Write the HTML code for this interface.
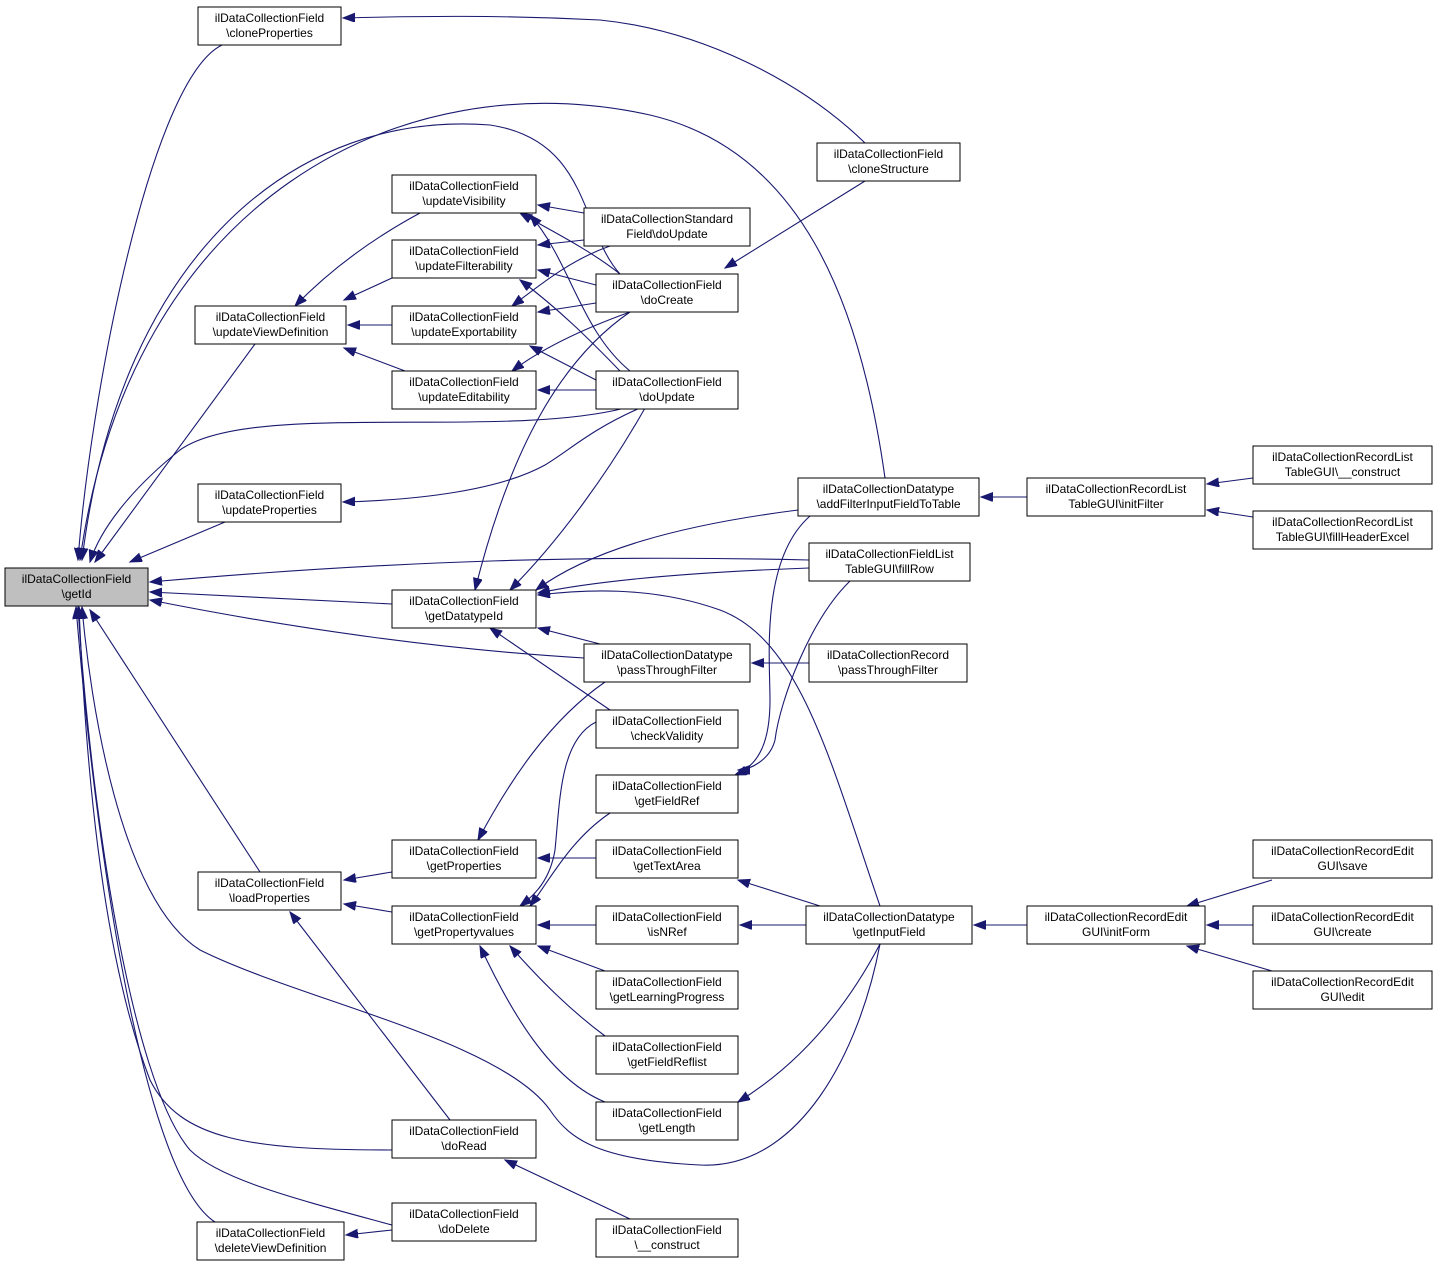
<!DOCTYPE html>
<html><head><meta charset="utf-8"><style>
html,body{margin:0;padding:0;background:#fff;}
svg{display:block;}
text{font-family:"Liberation Sans",sans-serif;font-size:12px;fill:#000;}
.n{fill:#fff;stroke:#000;stroke-width:1;}
.e{fill:none;stroke:#191970;stroke-width:1.1;}
</style></head><body>
<svg width="1437" height="1267" viewBox="0 0 1437 1267" xmlns="http://www.w3.org/2000/svg">
<defs><marker id="a" markerUnits="userSpaceOnUse" markerWidth="14" markerHeight="10" refX="12" refY="4.5" orient="auto"><path d="M0,0 L12,4.5 L0,9 z" fill="#191970" stroke="#191970"/></marker></defs>
<g class="edges">
<path class="e" marker-end="url(#a)" d="M222,45 C150,80 90,400 78,560"/>
<path class="e" marker-end="url(#a)" d="M885,478 C860,300 800,150 650,115 C400,60 130,200 80,560"/>
<path class="e" marker-end="url(#a)" d="M620,274 C580,230 590,140 490,125 C300,110 120,250 82,560"/>
<path class="e" marker-end="url(#a)" d="M255,344 L95,562"/>
<path class="e" marker-end="url(#a)" d="M225,522 L130,562"/>
<path class="e" marker-end="url(#a)" d="M625,408 C500,440 250,400 180,450 C130,490 100,530 90,562"/>
<path class="e" marker-end="url(#a)" d="M809,560 C600,555 400,560 150,582"/>
<path class="e" marker-end="url(#a)" d="M392,604 L150,592"/>
<path class="e" marker-end="url(#a)" d="M584,658 C450,650 300,630 150,600"/>
<path class="e" marker-end="url(#a)" d="M260,872 L90,610"/>
<path class="e" marker-end="url(#a)" d="M880,944 C860,1050 800,1170 700,1165 C600,1160 570,1140 550,1110 C500,1040 300,1000 200,950 C120,900 90,700 82,607"/>
<path class="e" marker-end="url(#a)" d="M392,1150 C250,1150 180,1140 150,1080 C100,950 85,750 79,607"/>
<path class="e" marker-end="url(#a)" d="M392,1225 C300,1200 220,1180 190,1150 C130,1080 90,800 78,607"/>
<path class="e" marker-end="url(#a)" d="M215,1222 C150,1180 100,900 76,607"/>
<path class="e" marker-end="url(#a)" d="M420,213 C370,240 330,270 295,306"/>
<path class="e" marker-end="url(#a)" d="M392,278 L344,300"/>
<path class="e" marker-end="url(#a)" d="M392,325 L348,325"/>
<path class="e" marker-end="url(#a)" d="M405,371 L344,348"/>
<path class="e" marker-end="url(#a)" d="M584,213 L538,205"/>
<path class="e" marker-end="url(#a)" d="M620,274 C590,250 550,230 520,213"/>
<path class="e" marker-end="url(#a)" d="M630,371 C580,330 570,260 530,215"/>
<path class="e" marker-end="url(#a)" d="M584,240 L538,245"/>
<path class="e" marker-end="url(#a)" d="M596,285 L538,270"/>
<path class="e" marker-end="url(#a)" d="M620,371 C590,340 560,310 520,280"/>
<path class="e" marker-end="url(#a)" d="M610,246 C570,260 540,285 512,306"/>
<path class="e" marker-end="url(#a)" d="M596,303 L538,312"/>
<path class="e" marker-end="url(#a)" d="M596,380 L530,346"/>
<path class="e" marker-end="url(#a)" d="M630,312 C580,330 540,350 512,371"/>
<path class="e" marker-end="url(#a)" d="M596,390 L538,390"/>
<path class="e" marker-end="url(#a)" d="M865,143 C800,80 700,30 600,20 C500,15 420,16 343,18"/>
<path class="e" marker-end="url(#a)" d="M865,181 L725,268"/>
<path class="e" marker-end="url(#a)" d="M640,408 C590,430 570,450 545,465 C500,490 420,500 343,502"/>
<path class="e" marker-end="url(#a)" d="M392,872 L344,880"/>
<path class="e" marker-end="url(#a)" d="M392,912 L344,904"/>
<path class="e" marker-end="url(#a)" d="M450,1120 L290,912"/>
<path class="e" marker-end="url(#a)" d="M630,312 C560,360 510,450 475,590"/>
<path class="e" marker-end="url(#a)" d="M645,408 C610,470 560,540 510,590"/>
<path class="e" marker-end="url(#a)" d="M798,510 C680,525 590,550 536,590"/>
<path class="e" marker-end="url(#a)" d="M809,568 C700,572 600,580 538,593"/>
<path class="e" marker-end="url(#a)" d="M600,644 L538,628"/>
<path class="e" marker-end="url(#a)" d="M610,710 L490,628"/>
<path class="e" marker-end="url(#a)" d="M880,906 C830,760 800,640 720,610 C650,585 580,590 538,595"/>
<path class="e" marker-end="url(#a)" d="M605,682 C550,720 510,780 478,840"/>
<path class="e" marker-end="url(#a)" d="M596,858 L538,858"/>
<path class="e" marker-end="url(#a)" d="M596,722 C560,740 560,800 555,850 C550,880 535,895 520,906"/>
<path class="e" marker-end="url(#a)" d="M610,813 C570,840 550,880 530,906"/>
<path class="e" marker-end="url(#a)" d="M596,925 L538,925"/>
<path class="e" marker-end="url(#a)" d="M605,971 L538,946"/>
<path class="e" marker-end="url(#a)" d="M605,1036 C570,1010 540,980 510,946"/>
<path class="e" marker-end="url(#a)" d="M605,1102 C550,1080 510,1010 480,946"/>
<path class="e" marker-end="url(#a)" d="M810,516 C760,560 770,660 770,700 C770,740 760,765 735,775"/>
<path class="e" marker-end="url(#a)" d="M850,581 C810,620 780,700 775,740 C770,760 750,770 738,770"/>
<path class="e" marker-end="url(#a)" d="M820,906 L738,880"/>
<path class="e" marker-end="url(#a)" d="M806,925 L740,925"/>
<path class="e" marker-end="url(#a)" d="M880,944 C840,1020 790,1070 738,1102"/>
<path class="e" marker-end="url(#a)" d="M809,663 L752,663"/>
<path class="e" marker-end="url(#a)" d="M630,1219 L505,1160"/>
<path class="e" marker-end="url(#a)" d="M392,1230 L346,1235"/>
<path class="e" marker-end="url(#a)" d="M1027,497 L981,497"/>
<path class="e" marker-end="url(#a)" d="M1253,478 L1207,484"/>
<path class="e" marker-end="url(#a)" d="M1253,517 L1207,510"/>
<path class="e" marker-end="url(#a)" d="M1027,925 L974,925"/>
<path class="e" marker-end="url(#a)" d="M1272,880 L1187,906"/>
<path class="e" marker-end="url(#a)" d="M1253,925 L1207,925"/>
<path class="e" marker-end="url(#a)" d="M1272,971 L1187,946"/>
</g>
<g text-anchor="middle">
<rect x="5" y="568" width="143" height="38" fill="#bfbfbf" stroke="#000"/><text x="76.5" y="583">ilDataCollectionField</text><text x="76.5" y="598">\getId</text>
<rect class="n" x="198" y="7" width="143" height="38"/><text x="269.5" y="22">ilDataCollectionField</text><text x="269.5" y="37">\cloneProperties</text>
<rect class="n" x="195" y="306" width="151" height="38"/><text x="270.5" y="321">ilDataCollectionField</text><text x="270.5" y="336">\updateViewDefinition</text>
<rect class="n" x="198" y="484" width="143" height="38"/><text x="269.5" y="499">ilDataCollectionField</text><text x="269.5" y="514">\updateProperties</text>
<rect class="n" x="198" y="872" width="143" height="38"/><text x="269.5" y="887">ilDataCollectionField</text><text x="269.5" y="902">\loadProperties</text>
<rect class="n" x="197" y="1222" width="147" height="38"/><text x="270.5" y="1237">ilDataCollectionField</text><text x="270.5" y="1252">\deleteViewDefinition</text>
<rect class="n" x="392" y="175" width="144" height="38"/><text x="464" y="190">ilDataCollectionField</text><text x="464" y="205">\updateVisibility</text>
<rect class="n" x="392" y="240" width="144" height="38"/><text x="464" y="255">ilDataCollectionField</text><text x="464" y="270">\updateFilterability</text>
<rect class="n" x="392" y="306" width="144" height="38"/><text x="464" y="321">ilDataCollectionField</text><text x="464" y="336">\updateExportability</text>
<rect class="n" x="392" y="371" width="144" height="38"/><text x="464" y="386">ilDataCollectionField</text><text x="464" y="401">\updateEditability</text>
<rect class="n" x="392" y="590" width="144" height="38"/><text x="464" y="605">ilDataCollectionField</text><text x="464" y="620">\getDatatypeId</text>
<rect class="n" x="392" y="840" width="144" height="38"/><text x="464" y="855">ilDataCollectionField</text><text x="464" y="870">\getProperties</text>
<rect class="n" x="392" y="906" width="144" height="38"/><text x="464" y="921">ilDataCollectionField</text><text x="464" y="936">\getPropertyvalues</text>
<rect class="n" x="392" y="1120" width="144" height="38"/><text x="464" y="1135">ilDataCollectionField</text><text x="464" y="1150">\doRead</text>
<rect class="n" x="392" y="1203" width="144" height="38"/><text x="464" y="1218">ilDataCollectionField</text><text x="464" y="1233">\doDelete</text>
<rect class="n" x="584" y="208" width="166" height="38"/><text x="667" y="223">ilDataCollectionStandard</text><text x="667" y="238">Field\doUpdate</text>
<rect class="n" x="596" y="274" width="142" height="38"/><text x="667" y="289">ilDataCollectionField</text><text x="667" y="304">\doCreate</text>
<rect class="n" x="596" y="371" width="142" height="38"/><text x="667" y="386">ilDataCollectionField</text><text x="667" y="401">\doUpdate</text>
<rect class="n" x="584" y="644" width="166" height="38"/><text x="667" y="659">ilDataCollectionDatatype</text><text x="667" y="674">\passThroughFilter</text>
<rect class="n" x="596" y="710" width="142" height="38"/><text x="667" y="725">ilDataCollectionField</text><text x="667" y="740">\checkValidity</text>
<rect class="n" x="596" y="775" width="142" height="38"/><text x="667" y="790">ilDataCollectionField</text><text x="667" y="805">\getFieldRef</text>
<rect class="n" x="596" y="840" width="142" height="38"/><text x="667" y="855">ilDataCollectionField</text><text x="667" y="870">\getTextArea</text>
<rect class="n" x="596" y="906" width="142" height="38"/><text x="667" y="921">ilDataCollectionField</text><text x="667" y="936">\isNRef</text>
<rect class="n" x="596" y="971" width="142" height="38"/><text x="667" y="986">ilDataCollectionField</text><text x="667" y="1001">\getLearningProgress</text>
<rect class="n" x="596" y="1036" width="142" height="38"/><text x="667" y="1051">ilDataCollectionField</text><text x="667" y="1066">\getFieldReflist</text>
<rect class="n" x="596" y="1102" width="142" height="38"/><text x="667" y="1117">ilDataCollectionField</text><text x="667" y="1132">\getLength</text>
<rect class="n" x="596" y="1219" width="142" height="38"/><text x="667" y="1234">ilDataCollectionField</text><text x="667" y="1249">\__construct</text>
<rect class="n" x="817" y="143" width="143" height="38"/><text x="888.5" y="158">ilDataCollectionField</text><text x="888.5" y="173">\cloneStructure</text>
<rect class="n" x="798" y="478" width="181" height="38"/><text x="888.5" y="493">ilDataCollectionDatatype</text><text x="888.5" y="508">\addFilterInputFieldToTable</text>
<rect class="n" x="809" y="543" width="161" height="38"/><text x="889.5" y="558">ilDataCollectionFieldList</text><text x="889.5" y="573">TableGUI\fillRow</text>
<rect class="n" x="809" y="644" width="158" height="38"/><text x="888" y="659">ilDataCollectionRecord</text><text x="888" y="674">\passThroughFilter</text>
<rect class="n" x="806" y="906" width="166" height="38"/><text x="889" y="921">ilDataCollectionDatatype</text><text x="889" y="936">\getInputField</text>
<rect class="n" x="1027" y="478" width="178" height="38"/><text x="1116" y="493">ilDataCollectionRecordList</text><text x="1116" y="508">TableGUI\initFilter</text>
<rect class="n" x="1027" y="906" width="178" height="38"/><text x="1116" y="921">ilDataCollectionRecordEdit</text><text x="1116" y="936">GUI\initForm</text>
<rect class="n" x="1253" y="446" width="179" height="38"/><text x="1342.5" y="461">ilDataCollectionRecordList</text><text x="1342.5" y="476">TableGUI\__construct</text>
<rect class="n" x="1253" y="511" width="179" height="38"/><text x="1342.5" y="526">ilDataCollectionRecordList</text><text x="1342.5" y="541">TableGUI\fillHeaderExcel</text>
<rect class="n" x="1253" y="840" width="179" height="38"/><text x="1342.5" y="855">ilDataCollectionRecordEdit</text><text x="1342.5" y="870">GUI\save</text>
<rect class="n" x="1253" y="906" width="179" height="38"/><text x="1342.5" y="921">ilDataCollectionRecordEdit</text><text x="1342.5" y="936">GUI\create</text>
<rect class="n" x="1253" y="971" width="179" height="38"/><text x="1342.5" y="986">ilDataCollectionRecordEdit</text><text x="1342.5" y="1001">GUI\edit</text>
</g>
</svg>
</body></html>
